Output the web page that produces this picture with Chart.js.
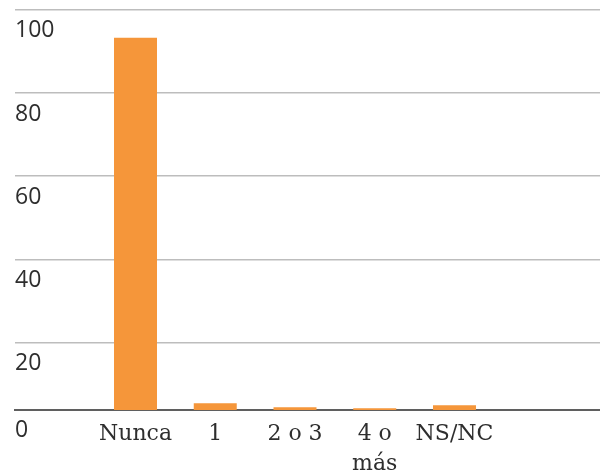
<!DOCTYPE html>
<html>
<head>
<meta charset="utf-8">
<script src="https://cdn.jsdelivr.net/npm/chart.js@4/dist/chart.umd.min.js"></script>
<style>
  html, body { margin: 0; padding: 0; background: #ffffff; }
  #wrap { width: 600px; height: 472px; }
</style>
</head>
<body>
<div id="wrap"><canvas id="c" width="600" height="472"></canvas></div>
<script>
// Response categories (one label is split over two lines)
const categories = ['Nunca', '1', '2 o 3', ['4 o', 'más'], 'NS/NC'];
// Share of respondents per category (%)
const shares = [93.0, 1.7, 0.7, 0.45, 1.2];
// Labelled gridlines on the value axis
const gridTicks = [20, 40, 60, 80, 100];
// Baseline label
const baseTicks = [0];

const BAR_COLOR = '#F5963A';
const TEXT_COLOR = '#2e2e2e';

const points = shares.map((v, i) => ({ x: i + 1, y: v }));

const noPad = (scale) => {
  scale.paddingTop = 0;
  scale.paddingBottom = 0;
  scale.paddingLeft = 0;
  scale.paddingRight = 0;
};

new Chart(document.getElementById('c'), {
  type: 'bar',
  data: {
    datasets: [{
      data: points,
      backgroundColor: BAR_COLOR,
      borderWidth: 0,
      categoryPercentage: 1,
      barPercentage: 0.539,
      xAxisID: 'x',
      yAxisID: 'y'
    }]
  },
  options: {
    responsive: false,
    devicePixelRatio: 1,
    animation: false,
    layout: { padding: { left: 15, right: 0, top: 9.8, bottom: 0 } },
    plugins: {
      legend: { display: false },
      tooltip: { enabled: false }
    },
    scales: {
      x: {
        type: 'linear',
        position: 'bottom',
        offset: false,
        min: -0.511,
        max: 6.8245,
        grid: { display: false, drawTicks: false, offset: false },
        border: { display: true, color: '#5f5f5f', width: 2 },
        afterBuildTicks: (scale) => {
          scale.ticks = categories.map((_, i) => ({ value: i + 1 }));
        },
        afterFit: (scale) => { scale.height = 62; noPad(scale); },
        ticks: {
          autoSkip: false,
          maxRotation: 0,
          minRotation: 0,
          padding: 9,
          color: TEXT_COLOR,
          font: { family: 'DejaVu Serif', size: 22, lineHeight: '30px' },
          callback: (value) => categories[value - 1]
        }
      },
      y: {
        type: 'linear',
        position: 'left',
        min: 0,
        max: 100,
        grid: { display: false, drawTicks: false },
        border: { display: false },
        afterBuildTicks: (scale) => {
          scale.ticks = baseTicks.map(v => ({ value: v }));
        },
        afterFit: (scale) => { scale.width = 0; noPad(scale); },
        ticks: {
          mirror: true,
          padding: 0,
          labelOffset: 20,
          color: TEXT_COLOR,
          font: { family: 'Open Sans', size: 23 },
          callback: (v) => String(v)
        }
      },
      yGrid: {
        type: 'linear',
        position: 'left',
        min: 3.8,
        max: 100,
        grid: { display: true, drawTicks: false, color: '#bdbdbd', lineWidth: 1.6 },
        border: { display: false },
        afterBuildTicks: (scale) => {
          scale.ticks = gridTicks.map(v => ({ value: v }));
        },
        afterFit: (scale) => { scale.width = 0; noPad(scale); },
        ticks: {
          mirror: true,
          padding: 0,
          labelOffset: 21,
          color: TEXT_COLOR,
          font: { family: 'Open Sans', size: 23 },
          callback: (v) => String(v)
        }
      }
    }
  }
});
</script>
</body>
</html>
